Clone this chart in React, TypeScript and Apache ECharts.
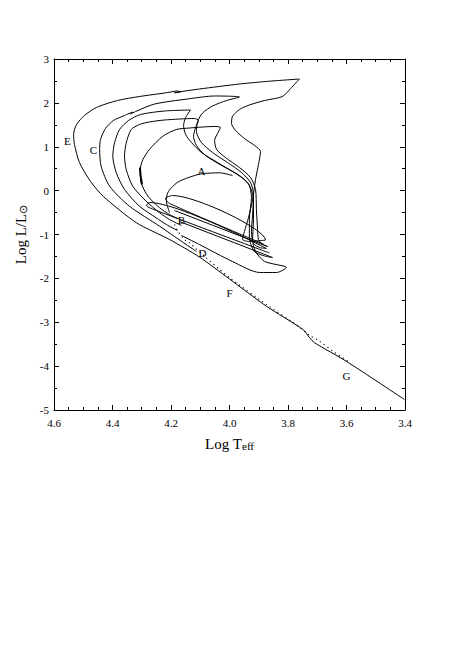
import React, { useEffect, useRef } from "react";
import * as echarts from "echarts";

// Log Teff (x, reversed) vs Log L/Lsun (y)
const X_TICKS_MIN = 3.4;
const X_TICKS_MAX = 4.6;
const Y_TICKS_MIN = -5;
const Y_TICKS_MAX = 3;

// main sequence + outermost track E
const TRACK_E: number[][] = [
  [3.402, -4.761], [3.601, -3.888], [3.709, -3.468], [3.726, -3.354], [3.749, -3.165],
  [3.874, -2.634], [4.0, -2.014], [4.103, -1.513], [4.205, -1.114], [4.318, -0.733],
  [4.431, -0.134], [4.475, 0.208], [4.513, 0.641], [4.53, 1.051], [4.533, 1.279],
  [4.523, 1.507], [4.496, 1.712], [4.455, 1.895], [4.383, 2.054], [4.308, 2.145],
  [4.222, 2.225], [4.202, 2.248], [4.178, 2.271], [4.168, 2.248], [4.188, 2.23],
  [4.171, 2.252], [4.103, 2.316], [3.966, 2.43], [3.863, 2.494], [3.761, 2.544],
  [3.791, 2.328], [3.819, 2.145], [3.88, 2.054], [3.932, 1.952], [3.966, 1.849],
  [3.99, 1.689], [3.993, 1.53], [3.979, 1.37], [3.949, 1.188], [3.914, 1.028],
  [3.894, 0.892], [3.901, 0.595], [3.911, 0.254], [3.921, -0.202], [3.935, -0.613],
  [3.949, -0.932], [3.955, -1.114], [3.932, -1.159], [3.891, -1.137], [3.877, -1.125],
  [4.195, -0.111], [4.219, -0.18], [4.205, -0.293], [3.884, -1.217],
];

const TRACK_C: number[][] = [
  [4.113, -1.387], [4.188, -1.046], [4.239, -0.811], [4.342, -0.355], [4.41, 0.101],
  [4.439, 0.557], [4.444, 0.937], [4.441, 1.165], [4.424, 1.416], [4.397, 1.598],
  [4.359, 1.712], [4.332, 1.792], [4.338, 1.746], [4.321, 1.803], [4.256, 1.974],
  [4.144, 2.088], [4.051, 2.157], [3.966, 2.134], [4.01, 2.054], [4.058, 1.929],
  [4.092, 1.769], [4.109, 1.575], [4.113, 1.348], [4.096, 1.097], [4.058, 0.869],
  [4.007, 0.641], [3.959, 0.413], [3.928, 0.185], [3.918, -0.088], [3.921, -0.544],
  [3.925, -0.932], [3.918, -1.205], [3.897, -1.296], [3.874, -1.319], [4.274, -0.271],
  [4.284, -0.339], [4.263, -0.419], [3.863, -1.422],
];

const TRACK_3: number[][] = [
  [4.178, -0.909], [4.216, -0.772], [4.251, -0.619], [4.308, -0.355], [4.359, 0.026],
  [4.387, 0.406], [4.399, 0.785], [4.393, 1.09], [4.376, 1.393], [4.345, 1.598],
  [4.304, 1.735], [4.222, 1.815], [4.133, 1.838], [4.15, 1.667], [4.157, 1.484],
  [4.15, 1.279], [4.13, 1.097], [4.096, 0.869], [4.041, 0.641], [3.979, 0.39],
  [3.935, 0.162], [3.925, -0.157], [3.932, -0.658], [3.932, -1.068], [3.915, -1.387],
  [3.88, -1.49], [3.853, -1.524], [4.171, -0.704],
];

const TRACK_4: number[][] = [
  [4.164, -0.795], [4.205, -0.658], [4.239, -0.505], [4.285, -0.241], [4.331, 0.101],
  [4.353, 0.481], [4.359, 0.785], [4.353, 1.09], [4.336, 1.393], [4.308, 1.507],
  [4.274, 1.564], [4.222, 1.61], [4.12, 1.644], [4.106, 1.598], [4.116, 1.439],
  [4.123, 1.234], [4.113, 1.028], [4.082, 0.801], [4.027, 0.573], [3.966, 0.345],
  [3.932, 0.117], [3.918, -0.202], [3.918, -0.658], [3.921, -1.114], [3.911, -1.387],
  [3.88, -1.615], [3.805, -1.752], [3.839, -1.866], [3.897, -1.866], [3.99, -1.615],
  [4.103, -1.228], [4.164, -1.023],
];

const TRACK_5: number[][] = [
  [4.178, -0.635], [4.205, -0.544], [4.239, -0.391], [4.279, -0.127], [4.302, 0.178],
  [4.305, 0.481], [4.296, 0.709], [4.274, 0.937], [4.228, 1.24], [4.182, 1.393],
  [4.137, 1.427], [4.051, 1.462], [4.031, 1.439], [4.041, 1.302], [4.051, 1.142],
  [4.044, 0.937], [4.014, 0.755], [3.966, 0.527], [3.928, 0.299], [3.911, 0.026],
  [3.908, -0.43], [3.904, -0.886], [3.901, -1.114], [3.891, -1.205], [3.87, -1.274],
  [4.188, -0.453],
];

// thick short segment on the nose of the innermost big loop
const TRACK_5_BOLD: number[][] = [[4.306, 0.527], [4.304, 0.345], [4.299, 0.14]];

const TRACK_A: number[][] = [
  [4.205, -0.5], [4.214, -0.316], [4.216, -0.202], [4.211, -0.05], [4.199, 0.064],
  [4.177, 0.192], [4.143, 0.292], [4.097, 0.383], [4.034, 0.406], [3.99, 0.345],
];

const ZAMS_DOTTED: number[][] = [
  [4.188, -0.772], [4.177, -0.925], [4.148, -1.153], [4.137, -1.189], [4.08, -1.531],
  [4.034, -1.798], [4.0, -1.987], [3.874, -2.595], [3.761, -3.108], [3.726, -3.302],
  [3.692, -3.432], [3.647, -3.66], [3.613, -3.81], [3.59, -3.917],
];

const LABEL_NAMES = ["E", "C", "A", "B", "D", "F", "G"];
const LABEL_T = [4.554, 4.465, 4.096, 4.164, 4.092, 4.0, 3.6];
const LABEL_L = [1.142, 0.915, 0.447, -0.67, -1.433, -2.322, -4.214];

const SOLID_TRACKS = [TRACK_E, TRACK_C, TRACK_3, TRACK_4, TRACK_5, TRACK_A];

const FONT = "'Liberation Serif', 'Times New Roman', serif";

export default function App() {
  const ref = useRef<HTMLDivElement>(null);
  useEffect(() => {
    if (!ref.current) return;
    const chart = echarts.init(ref.current, undefined, { renderer: "svg" });
    const lineSeries: any[] = SOLID_TRACKS.map((d, i) => ({
      type: "line",
      name: "track" + i,
      data: d,
      showSymbol: false,
      symbol: "none",
      smooth: 0.25,
      silent: true,
      lineStyle: { color: "#000", width: 1 },
    }));
    lineSeries.push({
      type: "line",
      name: "bold",
      data: TRACK_5_BOLD,
      showSymbol: false,
      symbol: "none",
      smooth: 0.3,
      silent: true,
      lineStyle: { color: "#000", width: 2 },
    });
    lineSeries.push({
      type: "line",
      name: "zams",
      data: ZAMS_DOTTED,
      showSymbol: false,
      symbol: "none",
      smooth: 0.2,
      silent: true,
      lineStyle: { color: "#000", width: 1.1, type: [1.2, 3.5] },
    });
    lineSeries.push({
      type: "scatter",
      name: "labels",
      data: LABEL_NAMES.map((n, i) => ({ name: n, value: [LABEL_T[i], LABEL_L[i]] })),
      symbol: "circle",
      symbolSize: 0,
      itemStyle: { color: "#000", opacity: 1 },
      silent: true,
      label: {
        show: true,
        position: [0, 0],
        align: "center",
        verticalAlign: "middle",
        formatter: "{b}",
        color: "#000",
        opacity: 1,
        fontFamily: FONT,
        fontSize: 11,
      },
    });
    const axisCommon = {
      axisLine: { show: true, onZero: false, lineStyle: { color: "#000", width: 1 } },
      axisTick: { show: true, inside: true, length: 5, lineStyle: { color: "#000" } },
      splitLine: { show: false },
    };
    const titleRich = {
      a: { fontFamily: FONT, fontSize: 15, color: "#000", lineHeight: 15 },
      b: { fontFamily: FONT, fontSize: 11, color: "#000", lineHeight: 11, padding: [8, 0, 0, 0], verticalAlign: "bottom" },
    };
    chart.setOption({
      animation: false,
      backgroundColor: "#fff",
      grid: { left: 54, top: 59, width: 351, height: 351, containLabel: false },
      xAxis: [
        {
          type: "value",
          min: X_TICKS_MIN,
          max: X_TICKS_MAX,
          interval: 0.2,
          inverse: true,
          position: "bottom",
          ...axisCommon,
          minorTick: { show: true, splitNumber: 4, length: 3, lineStyle: { color: "#000" } },
          axisLabel: {
            color: "#000",
            fontFamily: FONT,
            fontSize: 11,
            margin: 7,
            formatter: (v: number) => v.toFixed(1),
          },
          name: "{a|Log T}{b|eff}",
          nameLocation: "middle",
          nameGap: 26,
          nameTextStyle: { color: "#000", fontFamily: FONT, rich: titleRich },
        },
        {
          type: "value",
          min: X_TICKS_MIN,
          max: X_TICKS_MAX,
          interval: 0.2,
          inverse: true,
          position: "top",
          ...axisCommon,
          minorTick: { show: true, splitNumber: 4, length: 3, lineStyle: { color: "#000" } },
          axisLabel: { show: false },
        },
      ],
      yAxis: [
        {
          type: "value",
          min: Y_TICKS_MIN,
          max: Y_TICKS_MAX,
          interval: 1,
          position: "left",
          ...axisCommon,
          minorTick: { show: true, splitNumber: 2, length: 3, lineStyle: { color: "#000" } },
          axisLabel: {
            color: "#000",
            fontFamily: FONT,
            fontSize: 11,
            margin: 5,
            formatter: (v: number) => String(v),
          },
          name: "{a|Log L/L}{b|⊙}",
          nameLocation: "middle",
          nameGap: 24,
          nameRotate: 90,
          nameTextStyle: { color: "#000", fontFamily: FONT, rich: titleRich },
        },
        {
          type: "value",
          min: Y_TICKS_MIN,
          max: Y_TICKS_MAX,
          interval: 1,
          position: "right",
          ...axisCommon,
          minorTick: { show: true, splitNumber: 2, length: 3, lineStyle: { color: "#000" } },
          axisLabel: { show: false },
        },
      ],
      series: lineSeries,
    });
    return () => chart.dispose();
  }, []);
  return (
    <div
      ref={ref}
      style={{ position: "absolute", left: 0, top: 0, width: 460, height: 662, background: "#fff" }}
    />
  );
}
